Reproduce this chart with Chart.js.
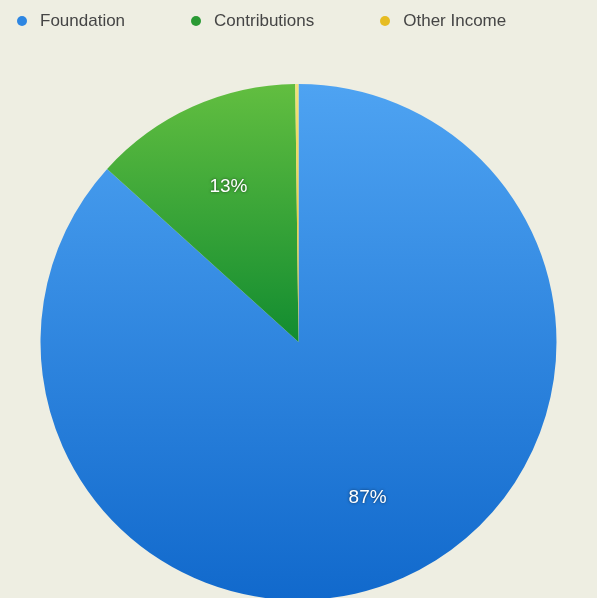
<!DOCTYPE html>
<html lang="en">
<head>
<meta charset="utf-8" />
<title>Income sources</title>
<script src="https://cdn.jsdelivr.net/npm/chart.js@4.4.1/dist/chart.umd.min.js"></script>
<style>
  html, body { margin: 0; padding: 0; background: #eeeee2; overflow: hidden; }
  .wrap { position: relative; width: 597px; height: 600px; }
  #legend { position: absolute; top: 0; left: 17px; height: 42px; display: flex; align-items: center; gap: 66px;
    font-family: "Liberation Sans", Arial, sans-serif; font-size: 17px; color: #454545; z-index: 2; }
  #legend .item { display: inline-flex; align-items: center; }
  #legend .dot { width: 10px; height: 10px; border-radius: 50%; margin-right: 13px; }
</style>
</head>
<body>
<div class="wrap">
  <div id="legend"></div>
  <canvas id="pie"></canvas>
</div>
<script>
const categories = ['Foundation', 'Contributions', 'Other Income']
const shares = [86.7, 13.1, 0.2]
const shareLabels = ['87%', '13%', '']

// top / bottom stops of each slice's vertical gradient
const topColors = ['#4ea3f2', '#62be40', '#f0e27a']
const bottomColors = ['#1169cc', '#128c30', '#e8c020']
const legendColors = ['#2d86e2', '#2a9a34', '#e6bc22']

function sliceFill(ctx) {
  const chart = ctx.chart
  const area = chart.chartArea
  if (!area) return topColors[ctx.dataIndex]
  const i = ctx.dataIndex
  const cy = (area.top + area.bottom) / 2
  // slices in the upper half end at the centre, the big one runs to the bottom
  const y1 = i === 0 ? area.bottom : cy
  const g = chart.ctx.createLinearGradient(0, area.top, 0, y1)
  g.addColorStop(0, topColors[i])
  g.addColorStop(1, bottomColors[i])
  return g
}

const sliceLabels = {
  id: 'sliceLabels',
  afterDatasetsDraw(chart) {
    const { ctx } = chart
    const meta = chart.getDatasetMeta(0)
    ctx.save()
    ctx.font = '19px "Liberation Sans", Arial, sans-serif'
    ctx.textAlign = 'center'
    ctx.textBaseline = 'middle'
    ctx.fillStyle = '#ffffff'
    ctx.shadowColor = 'rgba(0,0,0,0.6)'
    ctx.shadowBlur = 3
    meta.data.forEach((arc, i) => {
      if (!shareLabels[i]) return
      const { x, y, startAngle, endAngle, outerRadius } = arc.getProps(['x', 'y', 'startAngle', 'endAngle', 'outerRadius'], true)
      const mid = (startAngle + endAngle) / 2
      const r = outerRadius * 0.66
      ctx.fillText(shareLabels[i], x + Math.cos(mid) * r, y + Math.sin(mid) * r)
    })
    ctx.restore()
  },
}

const chart = new Chart(document.getElementById('pie'), {
  type: 'pie',
  data: {
    labels: categories,
    datasets: [{
      data: shares,
      backgroundColor: sliceFill,
      borderWidth: 0,
    }],
  },
  options: {
    responsive: true,
    maintainAspectRatio: false,
    animation: false,
    layout: { padding: { top: 84 } },
    plugins: { legend: { display: false }, tooltip: { enabled: false } },
  },
  plugins: [sliceLabels],
})

// html legend built from the chart's own legend items
const legendEl = document.getElementById('legend')
chart.options.plugins.legend.labels.generateLabels(chart).forEach((item, i) => {
  const el = document.createElement('span')
  el.className = 'item'
  el.innerHTML = '<span class="dot" style="background:' + legendColors[i] + '"></span>' + item.text
  legendEl.appendChild(el)
})
</script>
</body>
</html>
